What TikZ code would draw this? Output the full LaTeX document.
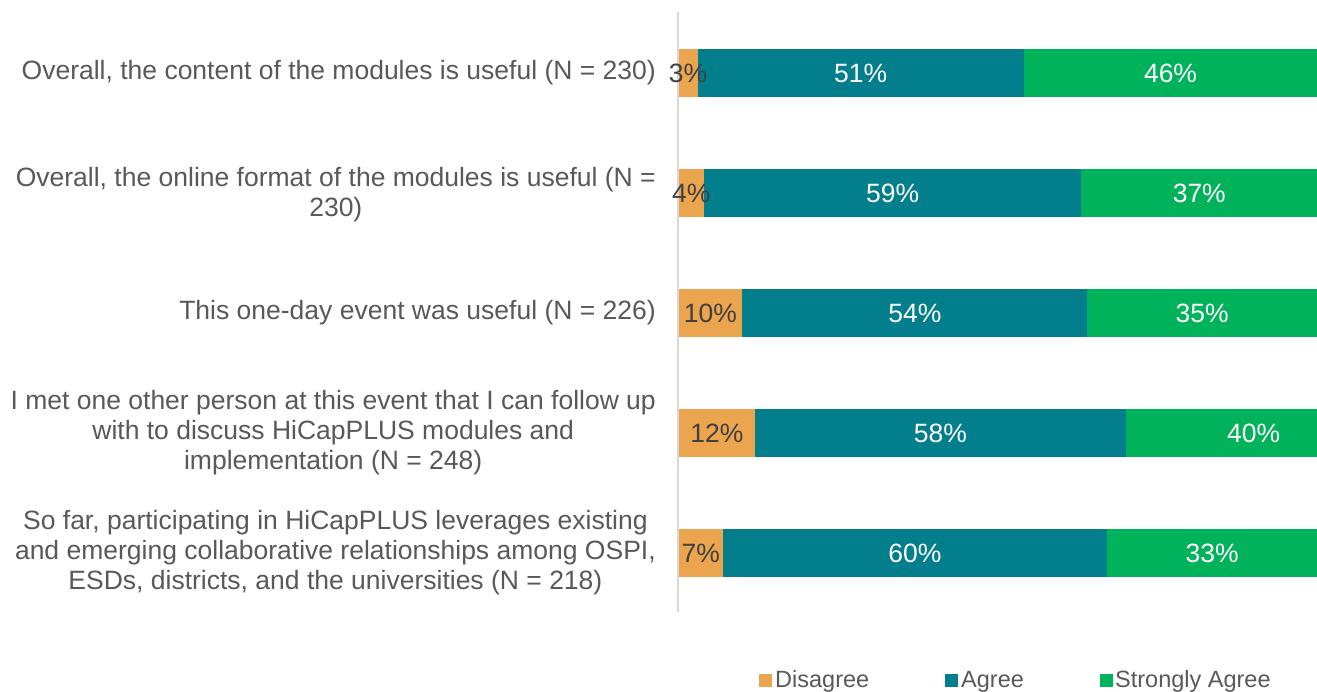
\documentclass[tikz,border=0pt]{standalone}
\usepackage{fontspec}
\setmainfont{Liberation Sans}
\definecolor{disagree}{HTML}{EBA54E}
\definecolor{agree}{HTML}{037E8C}
\definecolor{strong}{HTML}{00B25A}
\definecolor{labelgrey}{HTML}{595959}
\definecolor{darkpct}{HTML}{404040}
\definecolor{axisgrey}{HTML}{D9D9D9}
\tikzset{
  cat/.style={anchor=east, inner sep=0pt, align=center, text=labelgrey,
    font=\fontsize{26.5}{30}\selectfont},
  pct/.style={inner sep=0pt, text=white, font=\fontsize{26.5}{30}\selectfont},
  pctdark/.style={pct, text=darkpct},
  key/.style={anchor=base west, inner sep=0pt, text=labelgrey,
    font=\fontsize{23.5}{28}\selectfont},
}
\begin{document}
\begin{tikzpicture}[x=1pt,y=-1pt]
  \useasboundingbox (0,0) rectangle (1317,691);
  \fill[white] (0,0) rectangle (1317,691);
  % axis
  \draw[axisgrey, line width=2pt] (677.5,12) -- (677.5,612);
  % bars
  \begin{scope}
    \clip (0,0) rectangle (1317,691);
    \foreach \yc/\a/\b/\c [count=\i] in {73/3/51/46, 193/4/59/37, 313/10/54/35, 433/12/58/40, 553/7/60/33}{
      \pgfmathsetmacro{\xa}{678.5+6.39*\a}
      \pgfmathsetmacro{\xb}{\xa+6.39*\b}
      \pgfmathsetmacro{\xc}{max(\xb+6.39*\c,1317)}
      \fill[disagree] (678.5,\yc-24) rectangle (\xa,\yc+24);
      \fill[agree] (\xa,\yc-24) rectangle (\xb,\yc+24);
      \fill[strong] (\xb,\yc-24) rectangle (\xc,\yc+24);
      \node[pctdark] (d\i) at ({(678.5+\xa)/2},\yc) {\a\%};
      \node[pct] (a\i) at ({(\xa+\xb)/2},\yc) {\b\%};
      \node[pct] (s\i) at ({(\xb+\xc)/2},\yc) {\c\%};
    }
  \end{scope}
  % category labels
  \node[cat] (q1) at (656,73) {Overall, the content of the modules is useful (N = 230)};
  \node[cat] (q2) at (656,195) {Overall, the online format of the modules is useful (N =\\ 230)};
  \node[cat] (q3) at (656,313) {This one-day event was useful (N = 226)};
  \node[cat] (q4) at (656,433) {I met one other person at this event that I can follow up\\ with to discuss HiCapPLUS modules and\\ implementation (N = 248)};
  \node[cat] (q5) at (656,553) {So far, participating in HiCapPLUS leverages existing\\ and emerging collaborative relationships among OSPI,\\ ESDs, districts, and the universities (N = 218)};
  % legend
  \fill[disagree] (759,674) rectangle (772,687);
  \node[key] (kd) at (775,687) {Disagree};
  \fill[agree] (945,674) rectangle (958,687);
  \node[key] (ka) at (961,687) {Agree};
  \fill[strong] (1100,674) rectangle (1113,687);
  \node[key] (ks) at (1115,687) {Strongly Agree};
\end{tikzpicture}
\end{document}
